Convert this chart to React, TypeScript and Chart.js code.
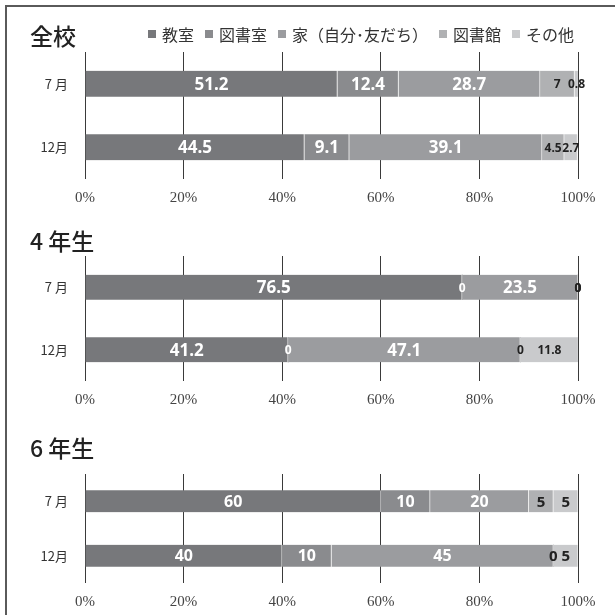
import React, { useEffect, useRef } from 'react';
import { Chart, registerables } from 'chart.js';
Chart.register(...registerables);

const seriesNames = ['教室', '図書室', '家（自分･友だち）', '図書館', 'その他'];
const seriesColors = ['#77787b', '#8a8b8e', '#9b9c9f', '#b0b1b3', '#c9cacc'];
const months = ['7 月', '12月'];
const xTickStep = 20;

// 全校
const allKyoushitsu = [51.2, 44.5];
const allToshoshitsu = [12.4, 9.1];
const allIe = [28.7, 39.1];
const allToshokan = [7, 4.5];
const allOther = [0.8, 2.7];

// 4年生
const g4Kyoushitsu = [76.5, 41.2];
const g4Toshoshitsu = [0, 0];
const g4Ie = [23.5, 47.1];
const g4Toshokan = [0, 0];
const g4Other = [0, 11.8];

// 6年生
const g6Kyoushitsu = [60, 40];
const g6Toshoshitsu = [10, 10];
const g6Ie = [20, 45];
const g6Toshokan = [5, 0];
const g6Other = [5, 5];

const panelTitles = ['全校', '4 年生', '6 年生'];

type PanelCfg = {
  series: number[][];
  areaTop: number;
  areaH: number;
  bar: number;
  big: number;
  small: number;
};

const panels: PanelCfg[] = [
  { series: [allKyoushitsu, allToshoshitsu, allIe, allToshokan, allOther], areaTop: 52, areaH: 127, bar: 26, big: 17, small: 12 },
  { series: [g4Kyoushitsu, g4Toshoshitsu, g4Ie, g4Toshokan, g4Other], areaTop: 256, areaH: 125, bar: 25, big: 17, small: 12 },
  { series: [g6Kyoushitsu, g6Toshoshitsu, g6Ie, g6Toshokan, g6Other], areaTop: 474, areaH: 109, bar: 22, big: 16, small: 15 },
];

const PAD_TOP = 12;
const X_AXIS_H = 30;

const labelPlugin = {
  id: 'barLabels',
  afterDatasetsDraw(chart: any, _args: any, opts: any) {
    const ctx = chart.ctx;
    chart.data.datasets.forEach((ds: any, di: number) => {
      const meta = chart.getDatasetMeta(di);
      meta.data.forEach((el: any, i: number) => {
        const v = ds.data[i];
        const p = el.getProps(['x', 'y', 'base'], true);
        const cx = (p.x + p.base) / 2;
        const darkBar = di <= 2;
        const big = darkBar && v >= 8;
        ctx.save();
        ctx.fillStyle = darkBar ? '#ffffff' : '#222222';
        ctx.font = `bold ${big ? opts.big : opts.small}px "Noto Sans"`;
        ctx.textAlign = 'center';
        ctx.textBaseline = 'middle';
        ctx.fillText(String(v), cx, p.y + 1);
        ctx.restore();
      });
    });
  },
};

function Panel({ cfg }: { cfg: PanelCfg }) {
  const ref = useRef<HTMLCanvasElement>(null);
  useEffect(() => {
    if (!ref.current) return;
    const chart = new Chart(ref.current, {
      type: 'bar',
      data: {
        labels: months,
        datasets: cfg.series.map((d, i) => ({
          label: seriesNames[i],
          data: d,
          backgroundColor: seriesColors[i],
          borderColor: 'rgba(235,235,235,0.7)',
          borderWidth: { top: 0, right: 1, bottom: 0, left: 0 },
          borderSkipped: false,
          barThickness: cfg.bar,
        })),
      },
      options: {
        indexAxis: 'y',
        animation: false,
        responsive: false,
        maintainAspectRatio: false,
        layout: { padding: { top: PAD_TOP, right: 37, left: 0, bottom: 0 } },
        plugins: {
          legend: { display: false },
          tooltip: { enabled: false },
          barLabels: { big: cfg.big, small: cfg.small },
        } as any,
        scales: {
          x: {
            stacked: true,
            min: 0,
            max: 100,
            ticks: {
              stepSize: xTickStep,
              callback: (v: any) => v + '%',
              font: { family: '"Liberation Serif"', size: 15 },
              color: '#444',
              padding: 10,
            },
            grid: { color: '#3a3a3a', lineWidth: 1, drawTicks: false },
            border: { display: false },
            afterFit: (s: any) => {
              s.height = X_AXIS_H;
            },
          },
          y: {
            stacked: true,
            ticks: {
              font: { family: '"Noto Sans CJK JP"', size: 13 },
              color: '#333',
              padding: 17,
            },
            grid: { display: false, drawTicks: false },
            border: { display: false },
            afterFit: (s: any) => {
              s.width = 85;
              s.paddingTop = 0;
              s.paddingBottom = 0;
            },
          },
        },
      },
      plugins: [labelPlugin],
    });
    return () => chart.destroy();
  }, [cfg]);
  const h = PAD_TOP + cfg.areaH + X_AXIS_H;
  return (
    <canvas
      ref={ref}
      width={615}
      height={h}
      style={{ position: 'absolute', left: 0, top: cfg.areaTop - PAD_TOP, width: 615, height: h }}
    />
  );
}

const titleTops = [24, 229, 436];

export default function App() {
  return (
    <div
      style={{
        position: 'fixed',
        left: 0,
        top: 0,
        width: 615,
        height: 615,
        overflow: 'hidden',
        background: '#fff',
      }}
    >
      <div
        style={{
          position: 'absolute',
          left: 5,
          top: 5,
          width: 800,
          height: 800,
          borderLeft: '2px solid #5a5a5a',
          borderTop: '2px solid #5a5a5a',
        }}
      />
      {panels.map((p, i) => (
        <Panel key={i} cfg={p} />
      ))}
      {panelTitles.map((t, i) => (
        <div
          key={t}
          style={{
            position: 'absolute',
            left: 30,
            top: titleTops[i],
            fontFamily: '"Noto Sans CJK JP"',
            fontSize: 23,
            fontWeight: 500,
            lineHeight: '23px',
            color: '#222',
            whiteSpace: 'pre',
          }}
        >
          {t}
        </div>
      ))}
      <div
        style={{
          position: 'absolute',
          left: 148,
          top: 25,
          display: 'flex',
          alignItems: 'center',
          gap: 11,
          fontFamily: '"Noto Sans CJK JP"',
          fontSize: 16,
          lineHeight: '18px',
          color: '#333',
          whiteSpace: 'nowrap',
        }}
      >
        {seriesNames.map((n, i) => (
          <div key={n} style={{ display: 'flex', alignItems: 'center' }}>
            <span style={{ display: 'inline-block', width: 8, height: 8, background: seriesColors[i], marginRight: 6 }} />
            <span>{n}</span>
          </div>
        ))}
      </div>
    </div>
  );
}
